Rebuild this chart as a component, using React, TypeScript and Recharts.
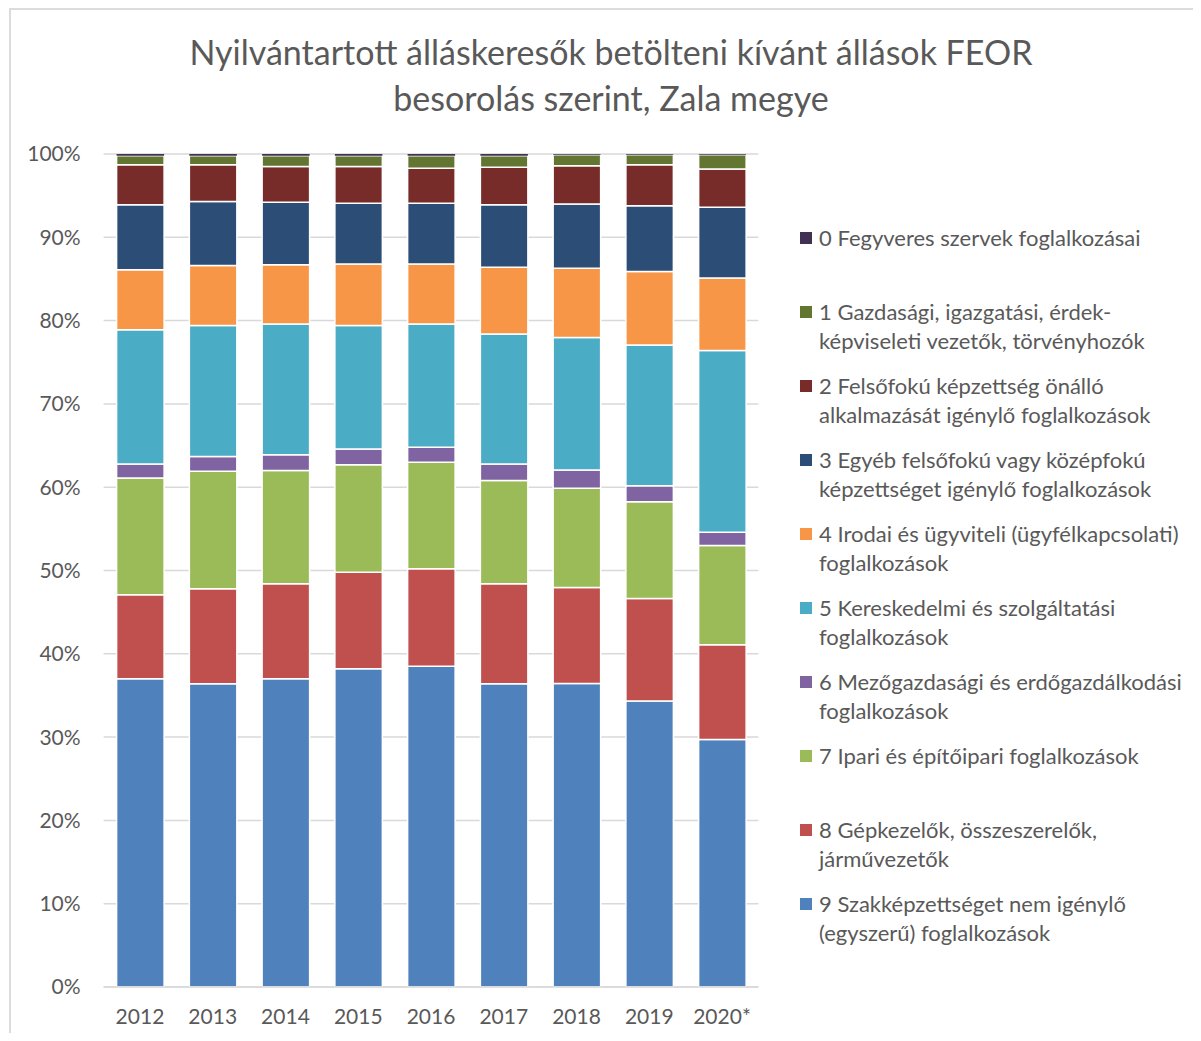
import { BarChart, Bar, XAxis, YAxis, CartesianGrid, Legend } from 'recharts';

// years on the x axis
const years = ['2012', '2013', '2014', '2015', '2016', '2017', '2018', '2019', '2020*'];

// share of job seekers by FEOR major group, %
const feor0 = [0.2, 0.2, 0.2, 0.2, 0.2, 0.2, 0.1, 0.1, 0.1];
const feor1 = [1.1, 1.1, 1.3, 1.3, 1.5, 1.4, 1.3, 1.2, 1.7];
const feor2 = [4.8, 4.4, 4.3, 4.4, 4.2, 4.5, 4.6, 4.9, 4.6];
const feor3 = [7.8, 7.7, 7.5, 7.3, 7.3, 7.5, 7.7, 7.9, 8.5];
const feor4 = [7.2, 7.2, 7.1, 7.4, 7.2, 8.0, 8.3, 8.8, 8.7];
const feor5 = [16.1, 15.7, 15.7, 14.8, 14.8, 15.6, 15.9, 16.9, 21.8];
const feor6 = [1.7, 1.8, 1.9, 1.9, 1.8, 2.0, 2.2, 1.9, 1.6];
const feor7 = [14.0, 14.1, 13.6, 12.9, 12.8, 12.4, 11.9, 11.6, 11.9];
const feor8 = [10.1, 11.4, 11.4, 11.6, 11.7, 12.0, 11.5, 12.3, 11.4];
const feor9 = [37.0, 36.4, 37.0, 38.2, 38.5, 36.4, 36.4, 34.3, 29.7];

const yTicks = [0, 0.1, 0.2, 0.3, 0.4, 0.5, 0.6, 0.7, 0.8, 0.9, 1];

// legend order, top to bottom; lines broken as in the original
const groups = [
  { key: 'g0', color: '#403152', values: feor0, lines: ['0 Fegyveres szervek foglalkozásai'] },
  { key: 'g1', color: '#627531', values: feor1, lines: ['1 Gazdasági, igazgatási, érdek-', 'képviseleti vezetők, törvényhozók'] },
  { key: 'g2', color: '#772c2a', values: feor2, lines: ['2 Felsőfokú képzettség önálló', 'alkalmazását igénylő foglalkozások'] },
  { key: 'g3', color: '#2c4d75', values: feor3, lines: ['3 Egyéb felsőfokú vagy középfokú', 'képzettséget igénylő foglalkozások'] },
  { key: 'g4', color: '#f79646', values: feor4, lines: ['4 Irodai és ügyviteli (ügyfélkapcsolati)', 'foglalkozások'] },
  { key: 'g5', color: '#4bacc6', values: feor5, lines: ['5 Kereskedelmi és szolgáltatási', 'foglalkozások'] },
  { key: 'g6', color: '#8064a2', values: feor6, lines: ['6 Mezőgazdasági és erdőgazdálkodási', 'foglalkozások'] },
  { key: 'g7', color: '#9bbb59', values: feor7, lines: ['7 Ipari és építőipari foglalkozások'] },
  { key: 'g8', color: '#c0504d', values: feor8, lines: ['8 Gépkezelők, összeszerelők,', 'járművezetők'] },
  { key: 'g9', color: '#4f81bd', values: feor9, lines: ['9 Szakképzettséget nem igénylő', '(egyszerű) foglalkozások'] },
];

const data = years.map((year, i) => {
  const row: Record<string, string | number> = { year };
  groups.forEach((g) => {
    row[g.key] = g.values[i];
  });
  return row;
});

const FONT = 'Lato, "Open Sans", sans-serif';
const TEXT = '#595959';

function LegendBox() {
  return (
    <div style={{ fontFamily: FONT, fontSize: 22, color: TEXT, lineHeight: '29px' }}>
      {groups.map((g) => (
        <div key={g.key} style={{ height: 74, position: 'relative', paddingLeft: 27 }}>
          <div
            style={{
              position: 'absolute',
              left: 8,
              top: 9,
              width: 12,
              height: 12,
              background: g.color,
            }}
          />
          {g.lines.map((l) => (
            <div key={l} style={{ whiteSpace: 'nowrap' }}>{l}</div>
          ))}
        </div>
      ))}
    </div>
  );
}

export default function App() {
  // bottom of the stack is group 9
  const stackOrder = [...groups].reverse();

  return (
    <div style={{ position: 'relative', width: 1185, height: 1025, fontFamily: FONT }}>
      <div
        style={{
          position: 'absolute',
          left: 1,
          top: 0,
          right: -20,
          bottom: -20,
          borderTop: '2px solid #dcdcdc',
          borderLeft: '2px solid #dcdcdc',
        }}
      />
      <div
        style={{
          position: 'absolute',
          left: 0,
          top: 21,
          width: 1206,
          textAlign: 'center',
          fontSize: 34,
          lineHeight: '46px',
          color: TEXT,
        }}
      >
        Nyilvántartott álláskeresők betölteni kívánt állások FEOR
        <br />
        besorolás szerint, Zala megye
      </div>

      <div style={{ position: 'absolute', left: 0, top: 0 }}>
        <BarChart
          width={1185}
          height={1030}
          data={data}
          stackOffset="expand"
          barSize={47.5}
          margin={{ top: 146, right: 434.6, bottom: 11, left: 35.6 }}
        >
          <CartesianGrid vertical={false} stroke="#d9d9d9" strokeWidth={1.5} />
          <XAxis
            dataKey="year"
            axisLine={{ stroke: '#d9d9d9', strokeWidth: 1.5 }}
            tickLine={false}
            tickMargin={16}
            height={40}
            tick={{ fill: TEXT, fontSize: 21, fontFamily: FONT }}
          />
          <YAxis
            width={60}
            domain={[0, 1]}
            ticks={yTicks}
            axisLine={false}
            tickLine={false}
            tickMargin={17}
            tickFormatter={(v: number) => `${Math.round(v * 100)}%`}
            tick={{ fill: TEXT, fontSize: 21, fontFamily: FONT }}
          />
          <Legend
            layout="vertical"
            align="center"
            verticalAlign="middle"
            wrapperStyle={{ left: 784, top: 215, width: 410, height: 760 }}
            content={() => <LegendBox />}
          />
          {stackOrder.map((g) => (
            <Bar
              key={g.key}
              dataKey={g.key}
              stackId="feor"
              fill={g.color}
              stroke={g.key === 'g0' ? 'none' : '#ffffff'}
              strokeWidth={1.5}
              isAnimationActive={false}
            />
          ))}
        </BarChart>
      </div>
    </div>
  );
}
